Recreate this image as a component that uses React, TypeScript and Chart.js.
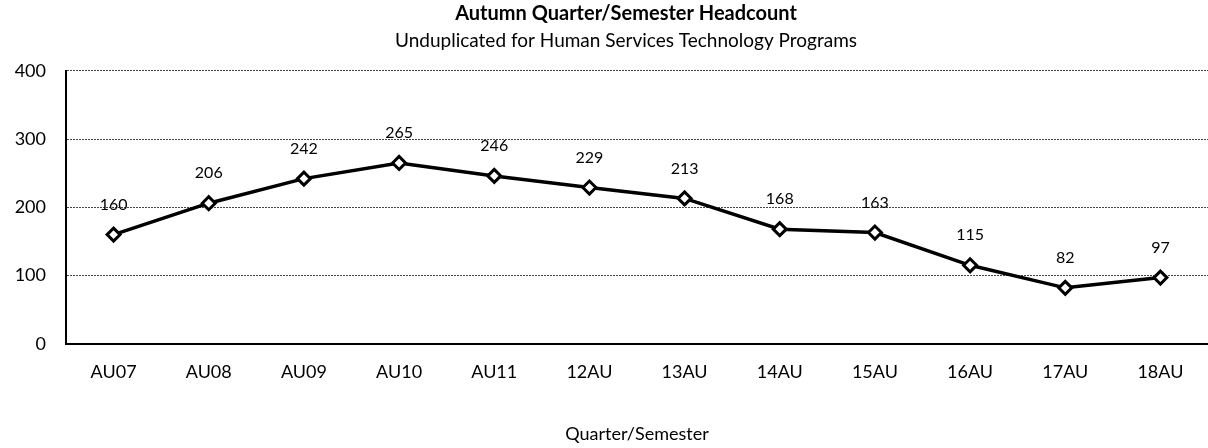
import React, { useEffect, useRef } from "react";
import { Chart, registerables } from "chart.js";

Chart.register(...registerables);

const categories = ["AU07", "AU08", "AU09", "AU10", "AU11", "12AU", "13AU", "14AU", "15AU", "16AU", "17AU", "18AU"];
const headcount = [160, 206, 242, 265, 246, 229, 213, 168, 163, 115, 82, 97];
const yTicks = [0, 100, 200, 300, 400];

const FONT = "Lato, 'Open Sans', sans-serif";

const labelPlugin = {
  id: "pointLabels",
  afterDatasetsDraw(chart: any) {
    const ctx = chart.ctx;
    const meta = chart.getDatasetMeta(0);
    ctx.save();
    ctx.font = `16px ${FONT}`;
    ctx.fillStyle = "#000";
    ctx.textAlign = "center";
    ctx.textBaseline = "middle";
    meta.data.forEach((pt: any, i: number) => {
      ctx.fillText(String(headcount[i]), pt.x, pt.y - 30);
    });
    // y-axis tick labels, right-aligned left of the axis
    const yScale = chart.scales.y;
    ctx.font = `18px ${FONT}`;
    ctx.textAlign = "right";
    yScale.ticks.forEach((t: any) => {
      ctx.fillText(String(t.value), yScale.right - 20, yScale.getPixelForValue(t.value));
    });
    ctx.restore();
  },
};

export default function App() {
  const ref = useRef<HTMLCanvasElement>(null);
  useEffect(() => {
    if (!ref.current) return;
    const chart = new Chart(ref.current, {
      type: "line",
      data: {
        labels: categories,
        datasets: [
          {
            data: headcount,
            borderColor: "#000",
            borderWidth: 3.5,
            pointStyle: "rectRot",
            pointRadius: 6.5,
            pointBorderWidth: 3,
            pointBackgroundColor: "#fff",
            pointBorderColor: "#000",
            tension: 0,
          },
        ],
      },
      options: {
        animation: false,
        responsive: true,
        maintainAspectRatio: false,
        layout: { autoPadding: false, padding: { left: 44, right: 0, top: 0, bottom: 3 } },
        plugins: {
          legend: { display: false },
          tooltip: { enabled: false },
          title: {
            display: true,
            text: "Autumn Quarter/Semester Headcount",
            color: "#000",
            font: { family: FONT, size: 20, weight: "bold" },
            padding: { top: 2, bottom: 0 },
          },
          subtitle: {
            display: true,
            text: "Unduplicated for Human Services Technology Programs",
            color: "#000",
            font: { family: FONT, size: 19 },
            padding: { top: 3, bottom: 19 },
          },
        },
        scales: {
          x: {
            offset: true,
            grid: { display: false, drawTicks: false },
            border: { display: true, color: "#000", width: 2 },
            ticks: { color: "#000", font: { family: FONT, size: 18 }, padding: 18 },
            title: {
              display: true,
              text: "Quarter/Semester",
              color: "#000",
              font: { family: FONT, size: 18 },
              padding: { top: 22, bottom: 0 },
            },
          },
          y: {
            min: 0,
            max: 400,
            afterBuildTicks: (axis: any) => {
              axis.ticks = yTicks.map((v) => ({ value: v }));
            },
            afterFit: (axis: any) => {
              axis.width = 22;
            },
            grid: {
              color: (c: any) => (c.tick && c.tick.value === 0 ? "rgba(0,0,0,0)" : "#444"),
              lineWidth: 1,
              drawTicks: false,
            },
            border: { display: true, color: "#000", width: 2, dash: [2, 1] },
            ticks: { display: false },
          },
        },
      },
      plugins: [labelPlugin],
    });
    return () => chart.destroy();
  }, []);
  return (
    <div style={{ position: "fixed", left: 0, top: 0, width: 1208, height: 448, background: "#fff" }}>
      <canvas ref={ref} />
    </div>
  );
}
